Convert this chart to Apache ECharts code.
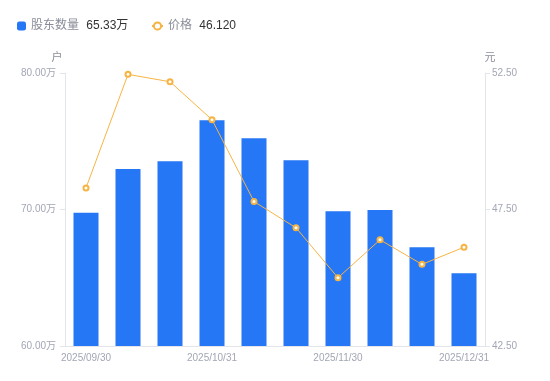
<!DOCTYPE html>
<html><head><meta charset="utf-8">
<script src="https://cdn.jsdelivr.net/npm/echarts@6/dist/echarts.min.js"></script>
<style>html,body{margin:0;padding:0;background:#fff}#c{width:550px;height:381px}</style>
</head><body><div id="c"></div>
<script>
const categories = ['2025/09/30','2025/10/10','2025/10/20','2025/10/31','2025/11/10','2025/11/20','2025/11/30','2025/12/10','2025/12/19','2025/12/31'];
const holders = [69.77, 72.97, 73.53, 76.53, 75.22, 73.60, 69.87, 69.96, 67.23, 65.33];
const prices = [48.29, 52.45, 52.18, 50.79, 47.79, 46.83, 45.00, 46.39, 45.49, 46.12];
const leftTicks = [60, 80, 10];
const rightTicks = [42.5, 52.5, 5];

const chart = echarts.init(document.getElementById('c'));
const font = '"Liberation Sans", "Noto Sans CJK SC", sans-serif';
const legendText = {fontFamily: font, fontSize: 12, rich: {n: {color: '#8a8d99', fontSize: 12, fontFamily: font}, v: {color: '#333', fontSize: 12, fontFamily: font, padding: [0,0,0,4]}}};
function fmt(name) {
  if (name === '股东数量') return '{n|股东数量} {v|' + holders[holders.length-1].toFixed(2) + '万}';
  return '{n|价格} {v|' + prices[prices.length-1].toFixed(3) + '}';
}
chart.setOption({
  animation: false,
  textStyle: {fontFamily: font},
  legend: [{
    left: 12, top: 15, itemWidth: 9, itemHeight: 9,
    textStyle: legendText, formatter: fmt,
    data: [{name: '股东数量', icon: 'roundRect'}]
  }, {
    left: 146, top: 15, itemWidth: 11, itemHeight: 9,
    textStyle: legendText, formatter: fmt,
    data: [{name: '价格'}]
  }],
  grid: {left: 65, right: 65, top: 73, bottom: 35},
  xAxis: {
    type: 'category', data: categories,
    axisLine: {lineStyle: {color: '#e3e5ea'}},
    axisTick: {show: false},
    axisLabel: {interval: 2, color: '#a3a6b4', fontSize: 10, margin: 7, fontFamily: font}
  },
  yAxis: [{
    type: 'value', name: '户', min: leftTicks[0], max: leftTicks[1], interval: leftTicks[2],
    nameTextStyle: {color: '#8a8d99', fontSize: 11, fontFamily: font, padding: [0, 16, 0, 0]}, nameGap: 10,
    axisLine: {show: true, lineStyle: {color: '#e3e5ea'}},
    axisTick: {show: true, length: 5, lineStyle: {color: '#e3e5ea'}},
    splitLine: {show: false},
    axisLabel: {color: '#a3a6b4', fontSize: 10, margin: 9, fontFamily: font, formatter: v => v.toFixed(2) + '万'}
  }, {
    type: 'value', name: '元', min: rightTicks[0], max: rightTicks[1], interval: rightTicks[2],
    nameTextStyle: {color: '#8a8d99', fontSize: 11, fontFamily: font, padding: [0, 0, 0, 10]}, nameGap: 10,
    axisLine: {show: true, lineStyle: {color: '#e3e5ea'}},
    axisTick: {show: true, length: 5, lineStyle: {color: '#e3e5ea'}},
    splitLine: {show: false},
    axisLabel: {color: '#a3a6b4', fontSize: 10, margin: 7, fontFamily: font, formatter: v => v.toFixed(2)}
  }],
  series: [{
    name: '股东数量', type: 'bar', data: holders, barWidth: 25,
    itemStyle: {color: '#2677f5'}
  }, {
    name: '价格', type: 'line', yAxisIndex: 1, data: prices,
    symbol: 'emptyCircle', symbolSize: 5,
    lineStyle: {color: '#f7b443', width: 1},
    itemStyle: {color: '#f7b443', borderWidth: 2}
  }]
});
</script></body></html>
